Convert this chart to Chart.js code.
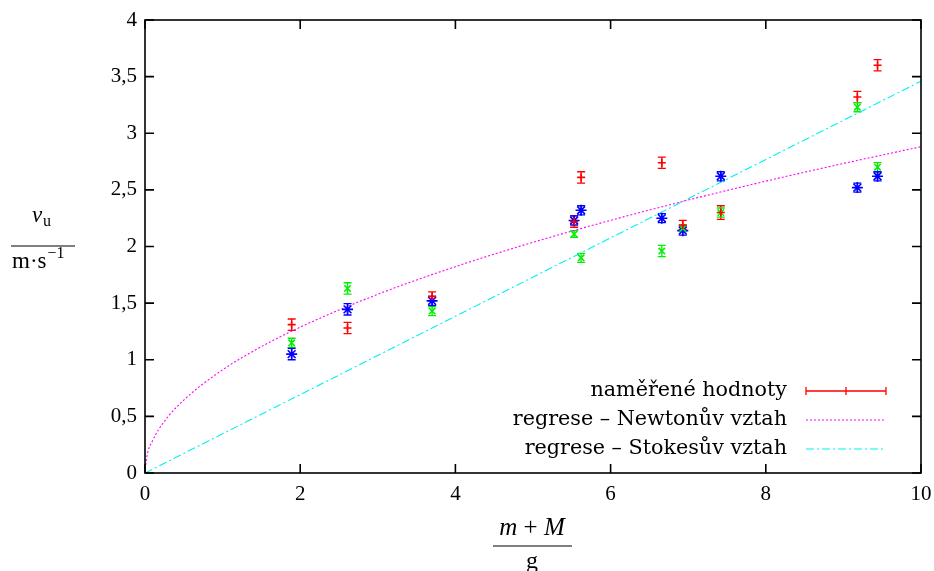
<!DOCTYPE html>
<html>
<head>
<meta charset="utf-8">
<script src="https://cdn.jsdelivr.net/npm/chart.js@4.4.1/dist/chart.umd.min.js"></script>
<style>
  html, body { margin: 0; padding: 0; background: #fff; }
  canvas { display: block; }
</style>
</head>
<body>
<canvas id="chart" width="934" height="571"></canvas>
<script>
// (m+M)/g
const massX = [1.89, 2.61, 3.70, 5.53, 5.62, 6.66, 6.93, 7.42, 9.18, 9.44];

// naměřené rychlosti v_u (tři série)
const speedRed   = [1.31, 1.28, 1.56, 2.22, 2.61, 2.74, 2.19, 2.30, 3.32, 3.60];
const errRed     = [0.05, 0.05, 0.04, 0.05, 0.05, 0.05, 0.04, 0.06, 0.05, 0.05];
const speedGreen = [1.15, 1.63, 1.43, 2.11, 1.90, 1.96, 2.16, 2.30, 3.23, 2.70];
const errGreen   = [0.04, 0.05, 0.04, 0.03, 0.04, 0.05, 0.03, 0.04, 0.04, 0.04];
const speedBlue  = [1.05, 1.445, 1.52, 2.23, 2.32, 2.25, 2.14, 2.62, 2.52, 2.62];
const errBlue    = [0.05, 0.05, 0.04, 0.04, 0.04, 0.04, 0.04, 0.04, 0.04, 0.04];

// regresní křivky
const newtonX = [0, 0.02, 0.1, 0.25, 0.5, 1, 1.5, 2, 3, 4, 5, 6, 7, 8, 9, 10];
const newtonY = [0, 0.129, 0.288, 0.456, 0.644, 0.911, 1.116, 1.288, 1.578, 1.822, 2.037, 2.231, 2.410, 2.577, 2.733, 2.881];
const stokesX = [0, 10];
const stokesY = [0, 3.46];

const xTicks = [0, 2, 4, 6, 8, 10];
const yTicks = [0, 0.5, 1, 1.5, 2, 2.5, 3, 3.5, 4];
const legendLabels = ['naměřené hodnoty', 'regrese – Newtonův vztah', 'regrese – Stokesův vztah'];

const RED = '#ff0000', GREEN = '#00f000', BLUE = '#0000ff', MAGENTA = '#ff00ff', CYAN = '#00f0f0';
const SERIF = '"Liberation Serif", serif';

function pts(xs, ys) { return xs.map((x, i) => ({ x: x, y: ys[i] })); }

// chybové úsečky
const errorBars = {
    id: 'errorBars',
    beforeDatasetsDraw(chart) {
        const { ctx, scales: { x, y } } = chart;
        ctx.save();
        chart.data.datasets.forEach(ds => {
            if (!ds.errors) return;
            ctx.strokeStyle = ds.borderColor;
            ctx.lineWidth = 1.3;
            ds.data.forEach((p, j) => {
                const px = x.getPixelForValue(p.x);
                const y1 = y.getPixelForValue(p.y - ds.errors[j]);
                const y2 = y.getPixelForValue(p.y + ds.errors[j]);
                ctx.beginPath();
                ctx.moveTo(px, y1); ctx.lineTo(px, y2);
                ctx.moveTo(px - 4, y1); ctx.lineTo(px + 4, y1);
                ctx.moveTo(px - 4, y2); ctx.lineTo(px + 4, y2);
                ctx.stroke();
            });
        });
        ctx.restore();
    }
};

// rámeček a dovnitř mířící značky
const frame = {
    id: 'frame',
    afterDraw(chart) {
        const { ctx, chartArea: a, scales: { x, y } } = chart;
        ctx.save();
        ctx.strokeStyle = '#000';
        ctx.lineWidth = 1.6;
        ctx.strokeRect(a.left, a.top, a.right - a.left, a.bottom - a.top);
        ctx.beginPath();
        xTicks.forEach(v => {
            const px = x.getPixelForValue(v);
            ctx.moveTo(px, a.bottom); ctx.lineTo(px, a.bottom - 9);
            ctx.moveTo(px, a.top); ctx.lineTo(px, a.top + 9);
        });
        yTicks.forEach(v => {
            const py = y.getPixelForValue(v);
            ctx.moveTo(a.left, py); ctx.lineTo(a.left + 9, py);
            ctx.moveTo(a.right, py); ctx.lineTo(a.right - 9, py);
        });
        ctx.stroke();
        ctx.restore();
    }
};

// legenda vpravo dole
const legendBox = {
    id: 'legendBox',
    afterDraw(chart) {
        const { ctx, chartArea: a } = chart;
        const textRight = a.right - 134, s1 = a.right - 115, s2 = a.right - 35;
        const rows = [a.bottom - 82, a.bottom - 53, a.bottom - 24];
        ctx.save();
        ctx.font = '20.7px "DejaVu Serif", serif';
        ctx.fillStyle = '#000';
        ctx.textAlign = 'right';
        ctx.textBaseline = 'middle';
        legendLabels.forEach((t, i) => ctx.fillText(t, textRight, rows[i]));

        ctx.lineWidth = 1.3;
        ctx.strokeStyle = RED;
        ctx.beginPath();
        ctx.moveTo(s1, rows[0]); ctx.lineTo(s2, rows[0]);
        ctx.moveTo(s1, rows[0] - 4); ctx.lineTo(s1, rows[0] + 4);
        ctx.moveTo(s2, rows[0] - 4); ctx.lineTo(s2, rows[0] + 4);
        const mid = (s1 + s2) / 2;
        ctx.moveTo(mid, rows[0] - 4); ctx.lineTo(mid, rows[0] + 4);
        ctx.stroke();

        ctx.lineWidth = 1.1;
        ctx.strokeStyle = MAGENTA;
        ctx.setLineDash([2, 2]);
        ctx.beginPath(); ctx.moveTo(s1, rows[1]); ctx.lineTo(s2, rows[1]); ctx.stroke();

        ctx.strokeStyle = CYAN;
        ctx.setLineDash([8, 3, 2, 3]);
        ctx.beginPath(); ctx.moveTo(s1, rows[2]); ctx.lineTo(s2, rows[2]); ctx.stroke();
        ctx.restore();
    }
};

// popisky os ve tvaru zlomků
const axisTitles = {
    id: 'axisTitles',
    afterDraw(chart) {
        const ctx = chart.ctx;
        const small = '16px ' + SERIF;
        ctx.save();
        ctx.fillStyle = '#000';
        ctx.strokeStyle = '#000';
        ctx.textBaseline = 'alphabetic';
        ctx.textAlign = 'left';
        ctx.lineWidth = 1.2;

        // svislá osa: v_u / m·s^-1
        ctx.font = 'italic 23px ' + SERIF;
        ctx.fillText('v', 32, 222);
        ctx.font = small;
        ctx.fillText('u', 43, 226);
        ctx.beginPath(); ctx.moveTo(11, 246); ctx.lineTo(75, 246); ctx.stroke();
        ctx.font = '23px ' + SERIF;
        ctx.fillText('m·s', 12, 268);
        const w = ctx.measureText('m·s').width;
        ctx.font = small;
        ctx.fillText('−1', 12 + w + 1, 258);

        // vodorovná osa: (m + M) / g
        const cx = 532, rom = '25px ' + SERIF, ita = 'italic 25px ' + SERIF;
        ctx.font = ita;
        const wm = ctx.measureText('m').width, wM = ctx.measureText('M').width;
        ctx.font = rom;
        const wp = ctx.measureText(' + ').width;
        let xx = cx - (wm + wp + wM) / 2;
        ctx.font = ita;
        ctx.fillText('m', xx, 535); xx += wm;
        ctx.font = rom;
        ctx.fillText(' + ', xx, 535); xx += wp;
        ctx.font = ita;
        ctx.fillText('M', xx, 535);
        ctx.beginPath(); ctx.moveTo(493, 546); ctx.lineTo(572, 546); ctx.stroke();
        ctx.textAlign = 'center';
        ctx.font = '24px ' + SERIF;
        ctx.fillText('g', cx, 568);
        ctx.restore();
    }
};

function draw() {
    const ctx = document.getElementById('chart').getContext('2d');
    new Chart(ctx, {
        type: 'scatter',
        data: {
            datasets: [
                { data: pts(massX, speedRed), errors: errRed, borderColor: RED, backgroundColor: RED,
                  pointStyle: 'cross', pointRadius: 4, borderWidth: 1.6 },
                { data: pts(massX, speedGreen), errors: errGreen, borderColor: GREEN, backgroundColor: GREEN,
                  pointStyle: 'crossRot', pointRadius: 4.5, borderWidth: 1.6 },
                { data: pts(massX, speedBlue), errors: errBlue, borderColor: BLUE, backgroundColor: BLUE,
                  pointStyle: 'star', pointRadius: 5.5, borderWidth: 1.6 },
                { type: 'line', data: pts(newtonX, newtonY), borderColor: MAGENTA, borderWidth: 1.1,
                  borderDash: [2, 2], pointRadius: 0, cubicInterpolationMode: 'monotone', fill: false },
                { type: 'line', data: pts(stokesX, stokesY), borderColor: CYAN, borderWidth: 1.1,
                  borderDash: [8, 3, 2, 3], pointRadius: 0, fill: false }
            ]
        },
        options: {
            responsive: false,
            animation: false,
            events: [],
            layout: { padding: { top: 20, right: 13, left: 0, bottom: 0 } },
            plugins: { legend: { display: false }, tooltip: { enabled: false } },
            scales: {
                x: {
                    type: 'linear', min: 0, max: 10,
                    grid: { display: false, drawTicks: false },
                    border: { display: false },
                    afterBuildTicks: s => { s.ticks = xTicks.map(v => ({ value: v })); },
                    afterFit: s => { s.height = 98; s.paddingLeft = 0; s.paddingRight = 0; },
                    ticks: { color: '#000', padding: 9, font: { family: SERIF, size: 21 },
                             maxRotation: 0, callback: v => String(v) }
                },
                y: {
                    type: 'linear', min: 0, max: 4,
                    grid: { display: false, drawTicks: false },
                    border: { display: false },
                    afterBuildTicks: s => { s.ticks = yTicks.map(v => ({ value: v })); },
                    afterFit: s => { s.width = 145; s.paddingTop = 0; s.paddingBottom = 0; },
                    ticks: { color: '#000', padding: 8, font: { family: SERIF, size: 21 },
                             callback: v => String(v).replace('.', ',') }
                }
            }
        },
        plugins: [errorBars, frame, legendBox, axisTitles]
    });
}

Promise.all([
    document.fonts.load('21px "Liberation Serif"'),
    document.fonts.load('italic 21px "Liberation Serif"'),
    document.fonts.load('20px "DejaVu Serif"')
]).then(draw, draw);
</script>
</body>
</html>
